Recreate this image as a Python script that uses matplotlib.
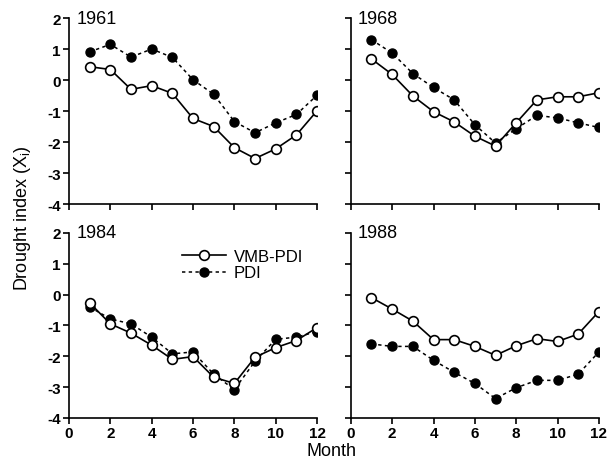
import numpy as np
import matplotlib
matplotlib.use('Agg')
from matplotlib import pyplot as plt

plt.rcParams['font.family'] = ['Liberation Sans', 'DejaVu Sans']
plt.rcParams['axes.unicode_minus'] = False

months = np.arange(1, 13)
years = ['1961', '1968', '1984', '1988']

# VMB-PDI (open circles) and PDI (filled circles) per year
vmb = {
    '1961': [0.43, 0.34, -0.30, -0.18, -0.43, -1.24, -1.50, -2.18, -2.53, -2.22, -1.77, -0.99],
    '1968': [0.68, 0.18, -0.51, -1.02, -1.35, -1.81, -2.13, -1.38, -0.64, -0.54, -0.54, -0.41],
    '1984': [-0.27, -0.95, -1.25, -1.64, -2.10, -2.01, -2.68, -2.88, -2.03, -1.72, -1.49, -1.07],
    '1988': [-0.10, -0.47, -0.86, -1.46, -1.46, -1.68, -1.97, -1.66, -1.43, -1.52, -1.28, -0.55],
}
pdi = {
    '1961': [0.91, 1.15, 0.74, 1.00, 0.73, 0.01, -0.46, -1.34, -1.70, -1.38, -1.11, -0.49],
    '1968': [1.30, 0.87, 0.21, -0.24, -0.64, -1.44, -2.03, -1.57, -1.14, -1.22, -1.38, -1.53],
    '1984': [-0.40, -0.79, -0.95, -1.38, -1.92, -1.86, -2.58, -3.08, -2.16, -1.45, -1.38, -1.20],
    '1988': [-1.60, -1.68, -1.68, -2.13, -2.52, -2.88, -3.37, -3.02, -2.78, -2.78, -2.58, -1.86],
}

xticks = [0, 2, 4, 6, 8, 10, 12]
yticks = [-4, -3, -2, -1, 0, 1, 2]

fig = plt.figure(figsize=(6.08, 4.64), dpi=100)
boxes = [
    [0.1135, 0.558, 0.408, 0.401],
    [0.577, 0.558, 0.408, 0.401],
    [0.1135, 0.097, 0.408, 0.399],
    [0.577, 0.097, 0.408, 0.399],
]

for i, (yr, box) in enumerate(zip(years, boxes)):
    ax = fig.add_axes(box)
    ax.plot(months, pdi[yr], color='black', lw=1.1, ls=(0, (2.2, 2.2)),
            marker='o', ms=6.5, mfc='black', mec='black', label='PDI')
    ax.plot(months, vmb[yr], color='black', lw=1.2, ls='-',
            marker='o', ms=7, mfc='white', mec='black', mew=1.2, label='VMB-PDI')
    ax.set_xlim(0, 12)
    ax.set_ylim(-4, 2)
    ax.set_xticks(xticks)
    ax.set_yticks(yticks)
    ax.spines['top'].set_visible(False)
    ax.spines['right'].set_visible(False)
    ax.spines['left'].set_linewidth(1.2)
    ax.spines['bottom'].set_linewidth(1.2)
    ax.tick_params(direction='out', length=4, width=1.2, labelsize=11, pad=2)
    for lab in ax.get_xticklabels() + ax.get_yticklabels():
        lab.set_fontweight('bold')
    if i < 2:
        ax.tick_params(labelbottom=False)
    if i % 2 == 1:
        ax.tick_params(labelleft=False)
    ax.text(0.35, 2.0, yr, fontsize=13, va='center', ha='left')
    if yr == '1984':
        h, l = ax.get_legend_handles_labels()
        ax.legend([h[1], h[0]], [l[1], l[0]], loc='upper left',
                  bbox_to_anchor=(0.43, 0.95), frameon=False, fontsize=12,
                  handlelength=2.6, handletextpad=0.5, labelspacing=0.1,
                  borderaxespad=0)

fig.text(0.037, 0.53, 'Drought index (X$_\\mathregular{i}$)', rotation=90,
         fontsize=13, va='center', ha='center')
fig.text(0.545, 0.026, 'Month', fontsize=13, va='center', ha='center')

plt.savefig('out.png', dpi=100)
